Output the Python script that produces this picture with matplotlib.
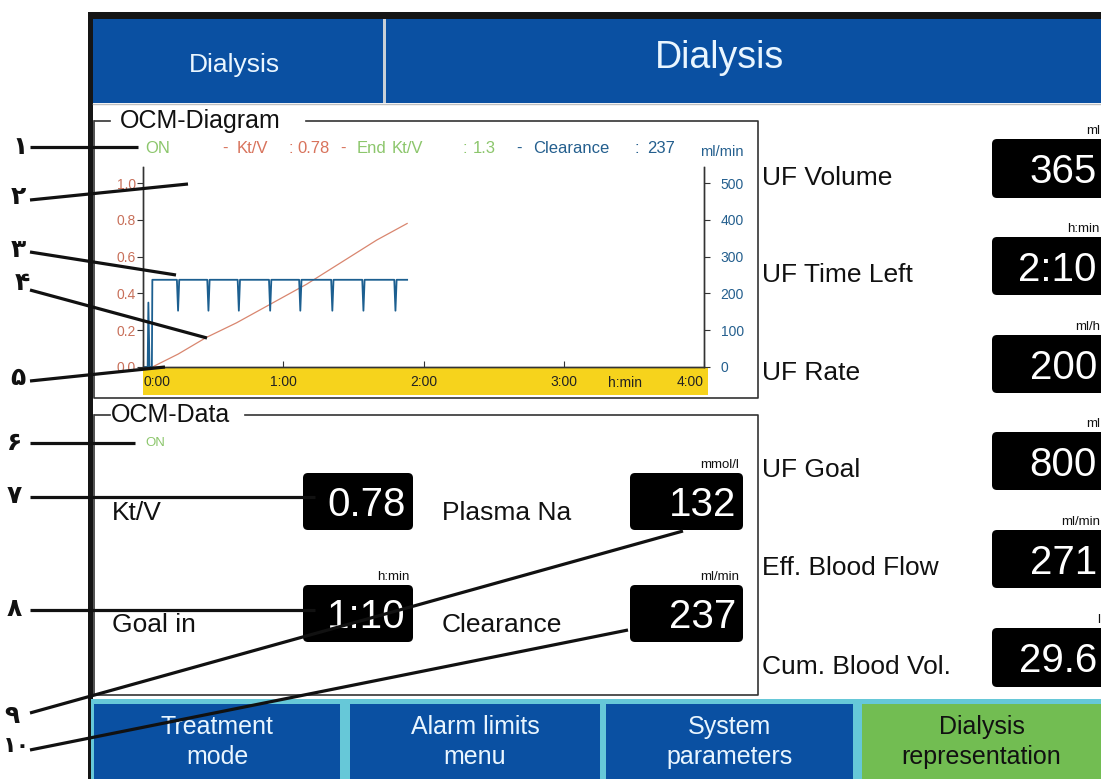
import matplotlib
matplotlib.use('Agg')
import matplotlib.pyplot as plt
from matplotlib.patches import Rectangle, FancyBboxPatch

ktv_time = [4, 15, 27, 40, 50, 60, 70, 80, 90, 100, 113]          # minutes
ktv_values = [0.0, 0.07, 0.16, 0.24, 0.31, 0.38, 0.45, 0.53, 0.61, 0.69, 0.78]

clear_start_time = [0, 2.0, 2.3, 2.8, 3.8, 4.0]
clear_start_values = [0, 0, 175, 0, 0, 237]
clear_plateau = 237
clear_dip_floor = 153
clear_dip_times = [15, 28, 41, 54.4, 67.3, 81, 94.3, 108]
clear_end_time = 113

ktv_now = 0.78
ktv_end = 1.3
clearance_now = 237

x_ticks = [0, 60, 120, 180, 240]
x_ticklabels = ['0:00', '1:00', '2:00', '3:00', '4:00']
ktv_ticks = [0.0, 0.2, 0.4, 0.6, 0.8, 1.0]
clear_ticks = [0, 100, 200, 300, 400, 500]

ocm_labels = ['Kt/V', 'Plasma Na', 'Goal in', 'Clearance']
ocm_units = ['', 'mmol/l', 'h:min', 'ml/min']
ocm_values = ['0.78', '132', '1:10', '237']

uf_labels = ['UF Volume', 'UF Time Left', 'UF Rate', 'UF Goal', 'Eff. Blood Flow', 'Cum. Blood Vol.']
uf_units = ['ml', 'h:min', 'ml/h', 'ml', 'ml/min', 'l']
uf_values = ['365', '2:10', '200', '800', '271', '29.6']

buttons = ['Treatment\nmode', 'Alarm limits\nmenu', 'System\nparameters', 'Dialysis\nrepresentation']
numerals = ['۱', '۲', '۳', '۴', '۵', '۶', '۷', '۸', '۹', '۱۰']

# ---- colours ----
BLUE = '#0a50a2'
GREEN = '#72bd52'
CYAN = '#66c8d8'
YELLOW = '#f6d31c'
RED_T = '#d8735c'
GREEN_T = '#8cc66c'
BLUE_T = '#245f8e'
FONT = ['Liberation Sans', 'DejaVu Sans']

W, H = 1101, 779
fig = plt.figure(figsize=(W / 100, H / 100), dpi=100)
bg = fig.add_axes([0, 0, 1, 1])
bg.set_xlim(0, W)
bg.set_ylim(H, 0)
bg.axis('off')


def txt(ax, x, y, s, size, color='black', ha='left', va='baseline', **kw):
    ax.text(x, y, s, fontsize=size, color=color, ha=ha, va=va, family=FONT, **kw)


def value_box(x0, y0, x1, y1, value, unit, unit_x):
    bg.add_patch(FancyBboxPatch((x0 + 4, y0 + 4), x1 - x0 - 8, y1 - y0 - 8,
                                boxstyle='round,pad=4,rounding_size=5', fc='black', ec='none'))
    yc = (y0 + y1) / 2
    txt(bg, unit_x - 3, yc + 14.5, value, 29, 'white', ha='right', clip_on=True)
    if unit:
        txt(bg, unit_x, y0 - 5, unit, 9.5, '#111', ha='right')


# frame: top bar and left rule
bg.add_patch(Rectangle((88, 12), W - 88, 7, fc='#151515', ec='none'))
bg.add_patch(Rectangle((88, 12), 5, H - 12, fc='#151515', ec='none'))

# header
bg.add_patch(Rectangle((93, 19), 290, 84, fc=BLUE, ec='none'))
bg.add_patch(Rectangle((386, 19), W - 386, 84, fc=BLUE, ec='none'))
bg.add_patch(Rectangle((383, 19), 3, 84, fc='#c8d0d8', ec='none'))
bg.plot([93, W], [104, 104], color='#c0c0c0', lw=1)
txt(bg, 234, 72, 'Dialysis', 19, '#eaf6ff', ha='center')
txt(bg, 720, 68, 'Dialysis', 27, '#eaf6ff', ha='center')

# OCM-Diagram frame
bg.plot([95, 110], [121, 121], color='#333', lw=1.2)
bg.plot([306, 758, 758, 94, 94], [121, 121, 398, 398, 121], color='#333', lw=1.2)
txt(bg, 120, 121, 'OCM-Diagram', 18, '#111', va='center')

# legend row
legend_row = [(145, 'ON', GREEN_T), (222, '-', RED_T), (237, 'Kt/V', RED_T), (288, ':', RED_T),
              (297, f'{ktv_now}', RED_T), (340, '-', RED_T), (357, 'End', GREEN_T),
              (392, 'Kt/V', GREEN_T), (463, ':', GREEN_T), (473, f'{ktv_end}', GREEN_T),
              (516, '-', BLUE_T), (533, 'Clearance', BLUE_T), (634, ':', BLUE_T),
              (647, f'{clearance_now}', BLUE_T)]
for x, s, c in legend_row:
    txt(bg, x, 148, s, 12, c, va='center')
txt(bg, 700, 152, 'ml/min', 10.5, BLUE_T, va='center')

# yellow time band
bg.add_patch(Rectangle((143, 367), 565, 28, fc=YELLOW, ec='none'))
txt(bg, 625, 383, 'h:min', 10, '#222', ha='center', va='center')

# OCM-Data frame
bg.plot([95, 110], [415, 415], color='#333', lw=1.2)
bg.plot([245, 758, 758, 94, 94], [415, 415, 695, 695, 415], color='#333', lw=1.2)
txt(bg, 111, 415, 'OCM-Data', 18, '#111', va='center')
txt(bg, 145, 443, 'ON', 9.5, GREEN_T, va='center')

ocm_pos = [(112, 303, 413, 473, 530), (442, 630, 743, 473, 530),
           (112, 303, 413, 585, 642), (442, 630, 743, 585, 642)]
for (lx, x0, x1, y0, y1), lab, unit, val in zip(ocm_pos, ocm_labels, ocm_units, ocm_values):
    txt(bg, lx, (y0 + y1) / 2 + 18, lab, 19, '#111')
    value_box(x0, y0, x1, y1, val, unit, x1 - 4)

# right column
uf_rows = [(139, 198), (237, 295), (335, 393), (432, 490), (530, 588), (628, 687)]
for (y0, y1), lab, unit, val in zip(uf_rows, uf_labels, uf_units, uf_values):
    txt(bg, 762, (y0 + y1) / 2 + 16, lab, 19, '#111')
    value_box(992, y0, W + 20, y1, val, unit, W - 1)

# bottom buttons
bg.add_patch(Rectangle((91, 699), W - 91, H - 699, fc=CYAN, ec='none'))
btn_x = [(94, 340), (350, 600), (606, 853), (862, W + 5)]
for i, ((x0, x1), lab) in enumerate(zip(btn_x, buttons)):
    last = i == len(buttons) - 1
    bg.add_patch(Rectangle((x0, 704), x1 - x0, H - 704, fc=GREEN if last else BLUE, ec='none'))
    txt(bg, (x0 + min(x1, W)) / 2, 742, lab, 18, '#111' if last else '#eaf6ff',
        ha='center', va='center', linespacing=1.3)

# ---- OCM diagram ----
ax = fig.add_axes([143 / W, 1 - 367 / H, 561 / W, 200 / H])
ax.set_facecolor('none')
ax.set_xlim(0, 240)
ax.set_ylim(0, 1.087)
ax2 = ax.twinx()
ax2.set_ylim(0, 543.5)

clear_t = list(clear_start_time)
clear_v = list(clear_start_values)
for d in clear_dip_times:
    clear_t += [d - 0.5, d, d + 0.5]
    clear_v += [clear_plateau, clear_dip_floor, clear_plateau]
clear_t.append(clear_end_time)
clear_v.append(clear_plateau)

ax.plot(ktv_time, ktv_values, color='#d9866f', lw=0.9)
ax2.plot(clear_t, clear_v, color='#1c5f90', lw=1.3)

for a in (ax, ax2):
    a.spines['top'].set_visible(False)
    for s in ['left', 'right', 'bottom']:
        a.spines[s].set_color('#333')
        a.spines[s].set_linewidth(1)

ax.set_yticks(ktv_ticks)
ax.set_yticklabels([f'{v:.1f}' for v in ktv_ticks], family=FONT)
ax.tick_params(axis='y', direction='out', length=4, pad=1, labelsize=10, colors='#333', labelcolor='#c8705a')
ax2.set_yticks(clear_ticks)
ax2.set_yticklabels([str(v) for v in clear_ticks], family=FONT)
ax2.tick_params(axis='y', direction='out', length=4, pad=8, labelsize=10, colors='#333', labelcolor=BLUE_T)
ax.set_xticks(x_ticks)
ax.set_xticklabels(x_ticklabels, family=FONT)
ax.tick_params(axis='x', direction='in', length=4, pad=6, labelsize=10, colors='#333', labelcolor='#222')
ax.get_xticklabels()[0].set_ha('left')
ax.get_xticklabels()[-1].set_ha('right')

# ---- annotation callouts on top ----
top = fig.add_axes([0, 0, 1, 1])
top.set_xlim(0, W)
top.set_ylim(H, 0)
top.set_facecolor('none')
top.axis('off')

num_pos = [(20, 147), (18, 197), (18, 250), (22, 283), (18, 378),
           (15, 443), (14, 496), (14, 609), (12, 716), (16, 746)]
call_lines = [((30, 147), (138, 147)), ((30, 200), (188, 184)), ((30, 252), (176, 275)),
              ((30, 290), (207, 338)), ((30, 381), (165, 367)), ((30, 443), (135, 443)),
              ((30, 497), (315, 497)), ((30, 610), (315, 610)), ((30, 713), (683, 531)),
              ((30, 750), (628, 630))]
for n, (x, y), (p0, p1) in zip(numerals, num_pos, call_lines):
    top.text(x, y, n, fontsize=16 if len(n) > 1 else 18, fontweight='bold', ha='center',
             va='center', family=['DejaVu Sans'], color='#111')
    top.plot([p0[0], p1[0]], [p0[1], p1[1]], color='#111', lw=2.3, solid_capstyle='butt')

fig.savefig('out.png', dpi=100)
